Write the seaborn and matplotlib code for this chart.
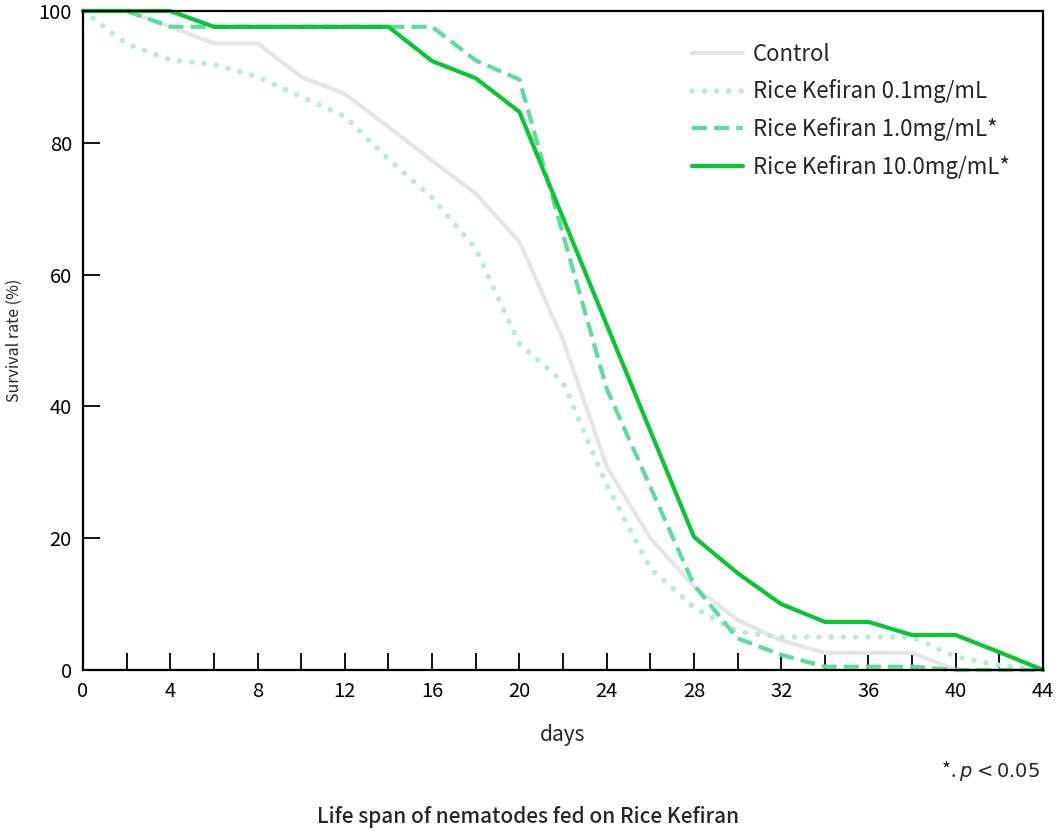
import pandas as pd
import matplotlib.pyplot as plt
import matplotlib.ticker as mticker
import seaborn as sns

days = list(range(0, 45, 2))

control = [100, 100, 97.6, 95.1, 95.1, 90.0, 87.4, 82.4, 77.3, 72.3, 65.0, 50.1,
           30.9, 20.0, 12.7, 7.6, 4.5, 2.6, 2.6, 2.6, 0, 0, 0]
kefiran_01 = [100, 95.0, 92.6, 91.9, 90.0, 87.0, 84.0, 77.5, 71.7, 63.9, 49.5, 43.7,
              28.1, 15.4, 9.5, 5.8, 5.0, 5.0, 5.0, 5.0, 2.0, 0.7, 0]
kefiran_1 = [100, 100, 97.6, 97.6, 97.6, 97.6, 97.6, 97.6, 97.6, 92.5, 89.6, 66.1,
             42.7, 27.8, 12.9, 4.8, 2.3, 0.5, 0.5, 0.5, 0, 0, 0]
kefiran_10 = [100, 100, 100, 97.6, 97.6, 97.6, 97.6, 97.6, 92.4, 89.8, 84.7, 68.6,
              52.4, 36.3, 20.2, 14.7, 10.0, 7.3, 7.3, 5.3, 5.3, 2.7, 0]

labels = ["Control", "Rice Kefiran 0.1mg/mL", "Rice Kefiran 1.0mg/mL*", "Rice Kefiran 10.0mg/mL*"]
series = [control, kefiran_01, kefiran_1, kefiran_10]
colors = ["#e6e6e6", "#b9eed2", "#5ddc9a", "#08c634"]
styles = [
    dict(linestyle="-", lw=3.0),
    dict(linestyle=(0, (0.01, 2.2)), lw=4.0, dash_capstyle="round"),
    dict(linestyle=(0, (3.6, 1.7)), lw=3.0),
    dict(linestyle="-", lw=3.0),
]

df = pd.DataFrame({"days": days * 4,
                   "rate": sum(series, []),
                   "group": [g for g in labels for _ in days]})

sns.set_theme(style="ticks")
plt.rcParams["font.family"] = ["Noto Sans CJK JP", "DejaVu Sans"]
plt.rcParams["mathtext.fontset"] = "dejavusans"

fig = plt.figure(figsize=(10.63, 8.33), dpi=100)
ax = fig.add_axes([0.0781, 0.1957, 0.9031, 0.7911])

for lab, col, st in zip(labels, colors, styles):
    sub = df[df["group"] == lab]
    sns.lineplot(data=sub, x="days", y="rate", ax=ax, color=col, label=lab,
                 clip_on=False, **st)

ax.set_xlim(0, 44)
ax.set_ylim(0, 100)
ax.xaxis.set_major_locator(mticker.MultipleLocator(4))
ax.xaxis.set_minor_locator(mticker.MultipleLocator(2))
ax.yaxis.set_major_locator(mticker.MultipleLocator(20))
ax.tick_params(which="both", direction="in", length=12, width=1.3, colors="black",
               labelsize=14.5, top=False, right=False)
ax.tick_params(axis="x", pad=8)
ax.tick_params(axis="y", pad=8)
for sp in ax.spines.values():
    sp.set_linewidth(1.6)
    sp.set_color("black")
    sp.set_visible(True)

ax.set_xlabel("days", fontsize=15, labelpad=16)
ax.set_ylabel("Survival rate (%)", fontsize=11.5, labelpad=11)

leg = ax.legend(loc="upper left", bbox_to_anchor=(0.634, 0.952), frameon=False,
                fontsize=16, handlelength=2.3, handletextpad=0.45, labelspacing=0.62,
                borderaxespad=0, borderpad=0)

fig.text(0.978, 0.074, r"*. $p < 0.05$", ha="right", va="center", fontsize=14)
fig.text(0.497, 0.019, "Life span of nematodes fed on Rice Kefiran", ha="center",
         va="center", fontsize=15, fontweight="medium")

plt.savefig("out.png", dpi=100)
